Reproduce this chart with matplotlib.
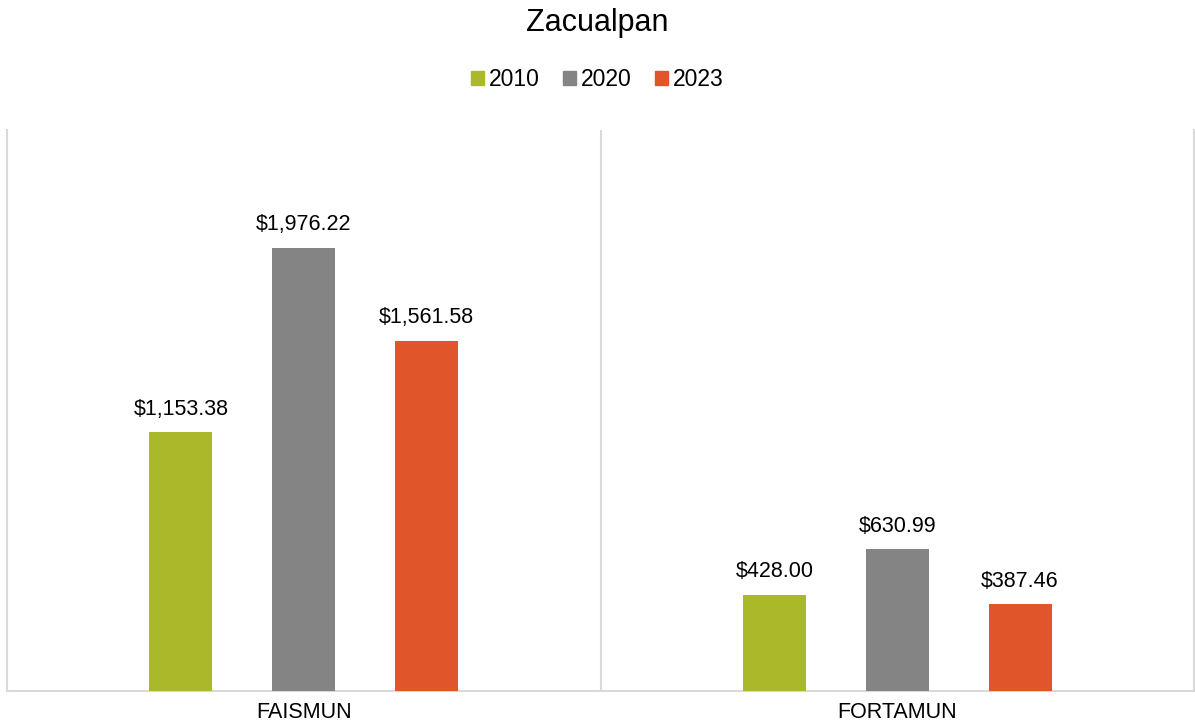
import numpy as np
import matplotlib.pyplot as plt
from matplotlib.patches import Patch

plt.rcParams['font.family'] = ['Liberation Sans', 'DejaVu Sans']

# data
categorias = ['FAISMUN', 'FORTAMUN']
anios = ['2010', '2020', '2023']
valores_2010 = [1153.38, 428.00]
valores_2020 = [1976.22, 630.99]
valores_2023 = [1561.58, 387.46]
colores = ['#A9B92A', '#848484', '#E05529']

series = [valores_2010, valores_2020, valores_2023]

fig = plt.figure(figsize=(11.95, 7.27), dpi=100)
ax = fig.add_axes([7 / 1195, 1 - 691 / 727, 1187 / 1195, 561 / 727])

x = np.arange(len(categorias))
ancho = 0.106
paso = 0.207

for i, (vals, col) in enumerate(zip(series, colores)):
    pos = x + (i - 1) * paso
    barras = ax.bar(pos, vals, width=ancho, color=col, zorder=3)
    for b, v in zip(barras, vals):
        ax.annotate(f'${v:,.2f}', (b.get_x() + b.get_width() / 2, v),
                    xytext=(0, 9), textcoords='offset points',
                    ha='center', va='bottom', fontsize=15.5, color='#000000')

ax.set_xlim(-0.5, 1.5)
ax.set_ylim(0, 2500)
ax.set_yticks([])
ax.set_xticks(x)
ax.set_xticklabels(categorias, fontsize=15.5)
ax.tick_params(axis='x', length=0, pad=8)

# separadores de categoria
ax.axvline(0.5, color='#D9D9D9', lw=1.5, zorder=1)
for s in ['left', 'right', 'bottom']:
    ax.spines[s].set_color('#D9D9D9')
    ax.spines[s].set_linewidth(1.5)
ax.spines['top'].set_visible(False)

fig.text(0.5, 1 - 23 / 727, 'Zacualpan', ha='center', va='center', fontsize=22)

handles = [Patch(color=c, label=a) for a, c in zip(anios, colores)]
fig.legend(handles=handles, loc='center', bbox_to_anchor=(0.5, 1 - 80 / 727),
           ncol=3, frameon=False, fontsize=16.5, handlelength=0.55, handleheight=0.55,
           handletextpad=0.25, columnspacing=1.0)

plt.savefig('out.png', dpi=100)
